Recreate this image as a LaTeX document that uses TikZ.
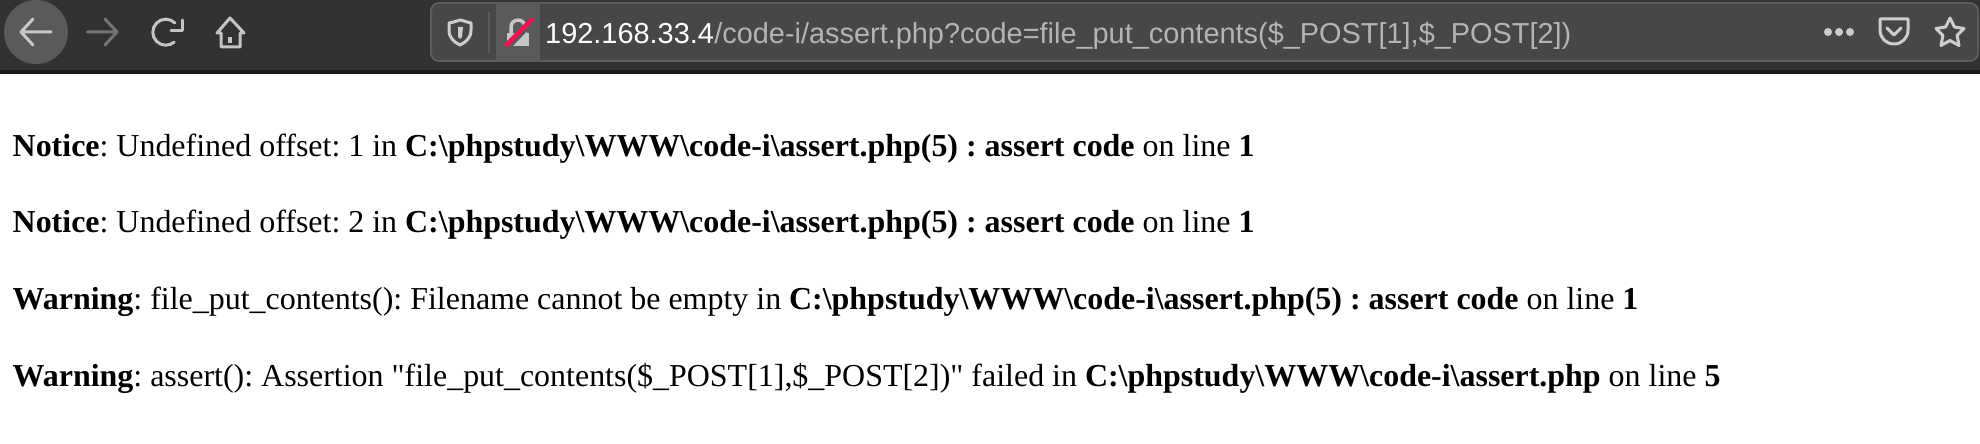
\documentclass[tikz,border=0pt]{standalone}
\usepackage{fontspec}
\newfontfamily\msgfont{Liberation Serif}
\newfontfamily\urlfont{Liberation Sans}
\usetikzlibrary{positioning,calc}
\definecolor{barbg}{HTML}{323234}
\definecolor{urlbg}{HTML}{474749}
\definecolor{urlline}{HTML}{5C5C5E}
\definecolor{hoverbg}{HTML}{5A5A5C}
\definecolor{iconcol}{HTML}{C4C4C6}
\definecolor{urlgrey}{HTML}{B4B4B6}
\definecolor{slashred}{HTML}{FF0B4F}
\tikzset{
    icon/.style={draw=iconcol,line width=3pt,line cap=round,line join=round},
    msg/.style={anchor=base west,inner sep=0pt,font=\msgfont\frenchspacing\fontsize{31.95}{36}\selectfont,text=black},
    urltext/.style={anchor=base west,inner sep=0pt,font=\urlfont\fontsize{28.9}{32}\selectfont}
}
\begin{document}
\begin{tikzpicture}[x=1pt,y=-1pt]
    \useasboundingbox (0,0) rectangle (1980,444);
    \fill[white] (0,0) rectangle (1980,444);
    \fill[barbg] (0,0) rectangle (1980,72);
    \fill[black!90] (0,70) rectangle (1980,74);
    % back and forward
    \fill[hoverbg] (36,32) circle (32);
    \draw[icon,draw=iconcol!95] (21,32) -- (51,32) (33,19) -- (21,32) -- (33,45);
    \draw[icon,draw=iconcol!45!barbg] (87,32) -- (117,32) (105,19) -- (117,32) -- (105,45);
    % reload
    \draw[icon] (175,23) arc[start angle=-45,end angle=-310,radius=13];
    \draw[icon] (182,20) -- (182,31) -- (171,31);
    % home
    \draw[icon] (217,33) -- (230,18) -- (244,33) -- (240,33) -- (240,47) -- (221,47) -- (221,33) -- cycle;
    \fill[iconcol] (228,37) rectangle (232,43);
    % url bar
    \draw[urlline,fill=urlbg,line width=2pt,rounded corners=8pt] (431,3) rectangle (1978,61);
    \fill[hoverbg] (496,4) rectangle (540,60);
    \draw[urlline,line width=2pt] (489,12) -- (489,53);
    % shield
    \draw[icon,draw=iconcol!85] (449,23) .. controls (456,22) and (458,20) .. (460,20) .. controls (462,20) and (466,22) .. (471,23)
        -- (471,30) .. controls (471,38) and (466,42) .. (460,45) .. controls (454,42) and (449,38) .. (449,30) -- cycle;
    \fill[iconcol!85] (458,27) -- (463,27) -- (462,37) -- (460,39) -- (458,37) -- cycle;
    % lock
    \fill[iconcol!95] (507,33) rectangle (529,46);
    \draw[icon,draw=iconcol!95,line width=3.5pt] (511,33) -- (511,27) arc[start angle=180,end angle=360,radius=7] -- (525,33);
    \draw[hoverbg,line width=7pt] (507,47) -- (533,20);
    \draw[slashred,line width=4pt,line cap=round] (506,45) -- (531,20);
    % url
    \node[urltext,text=white] (urlhost) at (545,43.5) {192.168.33.4};
    \node[urltext,text=urlgrey,anchor=base west] (urlpath) at (urlhost.base east) {/code-i/assert.php?code=file\_put\_contents(\$\_POST[1],\$\_POST[2])};
    % right icons
    \foreach \px in {1828,1839,1850}
        \fill[iconcol!85] (\px,32) circle (4);
    \draw[icon,draw=iconcol!85] (1880,19) -- (1908,19) -- (1908,30) .. controls (1908,38) and (1902,44) .. (1894,44) .. controls (1886,44) and (1880,38) .. (1880,30) -- cycle;
    \draw[icon,draw=iconcol!85] (1887,28) -- (1894,35) -- (1901,28);
    \draw[icon,draw=iconcol!85] (1950,18) -- (1954.4,27) -- (1964,28.5) -- (1957.1,35.3) -- (1959,45.5) -- (1950,40.5) -- (1941,45.5) -- (1942.9,35.3) -- (1936,28.5) -- (1945.6,27) -- cycle;
    % messages
    \node[msg] (noticeone) at (12.5,156) {\textbf{Notice}: Undefined offset: 1 in \textbf{C:\textbackslash phpstudy\textbackslash WWW\textbackslash code-i\textbackslash assert.php(5) : assert code} on line \textbf{1}};
    \node[msg] (noticetwo) at (12.5,232.5) {\textbf{Notice}: Undefined offset: 2 in \textbf{C:\textbackslash phpstudy\textbackslash WWW\textbackslash code-i\textbackslash assert.php(5) : assert code} on line \textbf{1}};
    \node[msg] (warnone) at (12.5,309.5) {\textbf{Warning}: file\_put\_contents(): Filename cannot be empty in \textbf{C:\textbackslash phpstudy\textbackslash WWW\textbackslash code-i\textbackslash assert.php(5) : assert code} on line \textbf{1}};
    \node[msg] (warntwo) at (12.5,386) {\textbf{Warning}: assert(): Assertion "file\_put\_contents(\$\_POST[1],\$\_POST[2])" failed in \textbf{C:\textbackslash phpstudy\textbackslash WWW\textbackslash code-i\textbackslash assert.php} on line \textbf{5}};
\end{tikzpicture}
\end{document}
